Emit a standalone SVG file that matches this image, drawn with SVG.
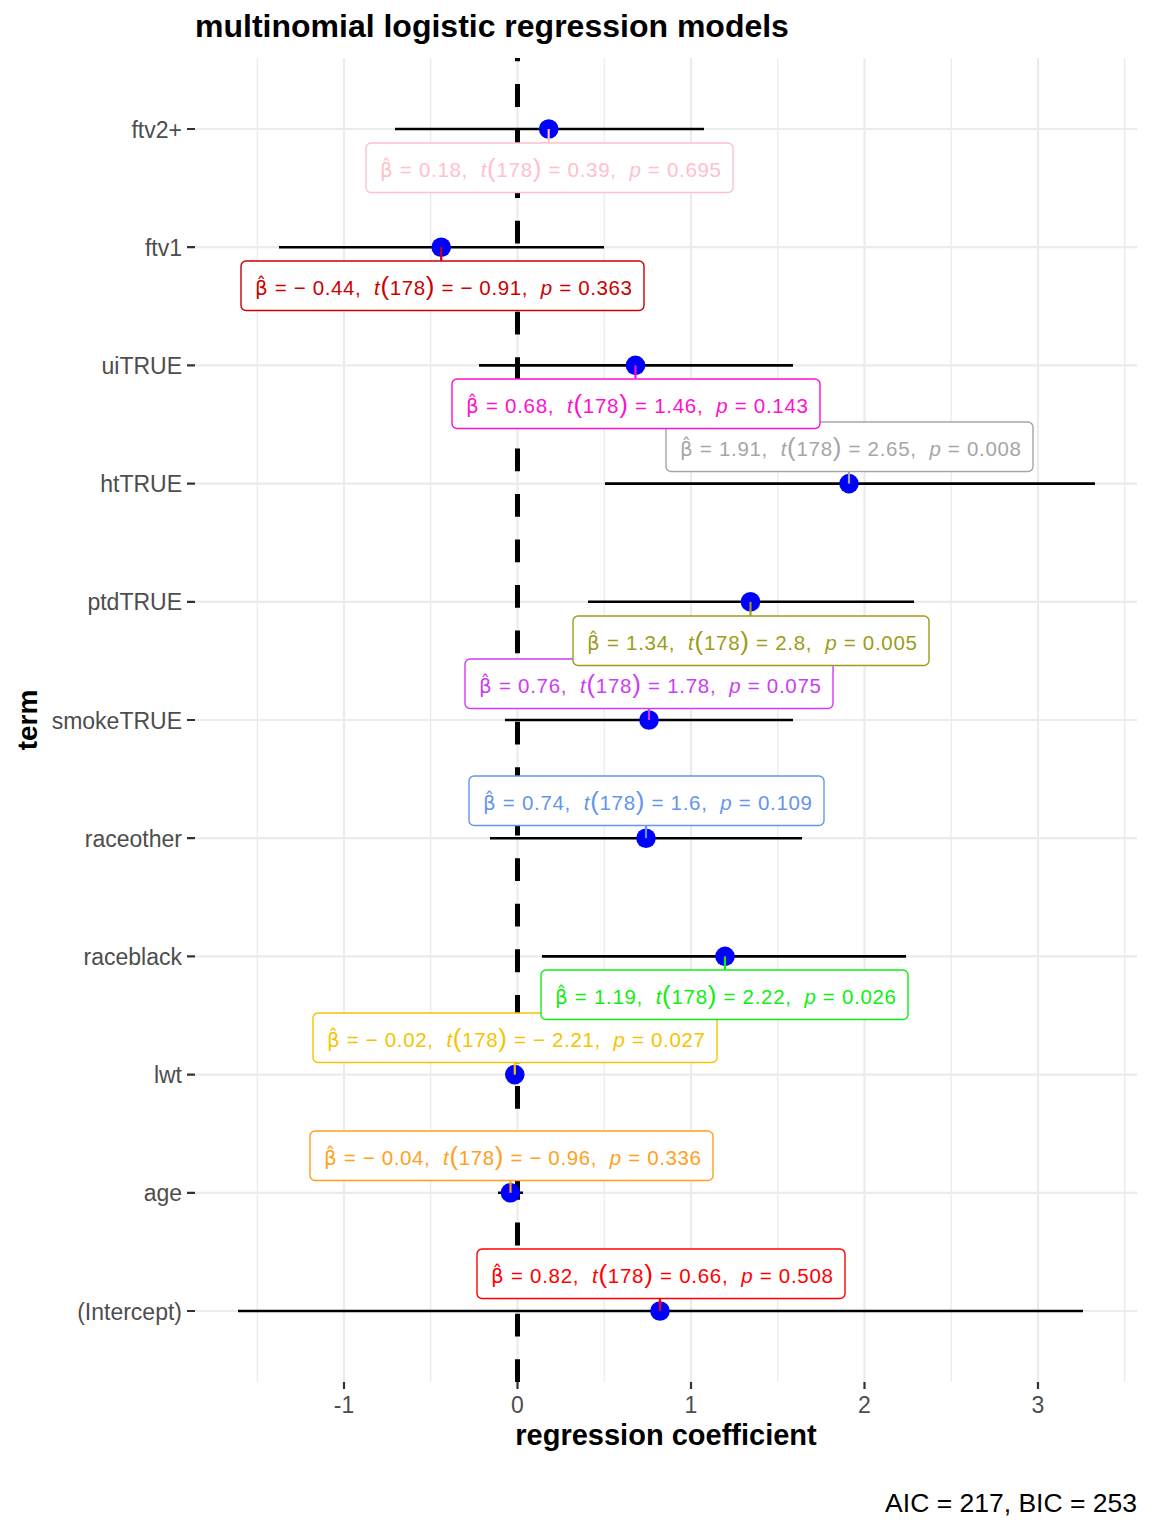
<svg xmlns="http://www.w3.org/2000/svg" width="1152" height="1536" viewBox="0 0 1152 1536">
<style>
text{font-family:"Liberation Sans",Arial,sans-serif}
.grid{stroke:#EBEBEB;stroke-width:2.2;fill:none}
.gridm{stroke:#EBEBEB;stroke-width:1.3;fill:none}
.tick{stroke:#333333;stroke-width:2.2}
.ylab{font-size:23px;fill:#4D4D4D;text-anchor:end}
.xlab{font-size:23px;fill:#4D4D4D;text-anchor:middle}
.eb{stroke:#000;stroke-width:2.6}
.pt{fill:#0000FF}
.box{fill:#fff;stroke-width:1.4}
.lab{font-size:20.5px;white-space:pre}
.b{font-family:"DejaVu Sans",sans-serif;font-size:20px}
.par{font-size:26px}
.it{font-style:italic}
.seg{stroke-width:2.2}
</style>
<rect width="1152" height="1536" fill="#fff"/>
<g id="grid">
<path class="gridm" d="M257.25 58V1382M430.75 58V1382M604.25 58V1382M777.75 58V1382M951.25 58V1382M1124.75 58V1382"/>
<path class="grid" d="M344 58V1382M517.5 58V1382M691 58V1382M864.5 58V1382M1038 58V1382"/>
<path class="grid" d="M195 129H1137M195 247.2H1137M195 365.4H1137M195 483.6H1137M195 601.8H1137M195 720H1137M195 838.2H1137M195 956.4H1137M195 1074.6H1137M195 1192.8H1137M195 1311H1137"/>
</g>
<g id="axes">
<path class="tick" d="M187 129H195M187 247.2H195M187 365.4H195M187 483.6H195M187 601.8H195M187 720H195M187 838.2H195M187 956.4H195M187 1074.6H195M187 1192.8H195M187 1311H195"/>
<path class="tick" d="M344 1382V1389M517.5 1382V1389M691 1382V1389M864.5 1382V1389M1038 1382V1389"/>
<text class="ylab" x="182" y="137.5">ftv2+</text>
<text class="ylab" x="182" y="255.7">ftv1</text>
<text class="ylab" x="182" y="373.9">uiTRUE</text>
<text class="ylab" x="182" y="492.1">htTRUE</text>
<text class="ylab" x="182" y="610.3">ptdTRUE</text>
<text class="ylab" x="182" y="728.5">smokeTRUE</text>
<text class="ylab" x="182" y="846.7">raceother</text>
<text class="ylab" x="182" y="964.9">raceblack</text>
<text class="ylab" x="182" y="1083.1">lwt</text>
<text class="ylab" x="182" y="1201.3">age</text>
<text class="ylab" x="182" y="1319.5">(Intercept)</text>
<text class="xlab" x="344" y="1413">-1</text>
<text class="xlab" x="517.5" y="1413">0</text>
<text class="xlab" x="691" y="1413">1</text>
<text class="xlab" x="864.5" y="1413">2</text>
<text class="xlab" x="1038" y="1413">3</text>
<text x="666" y="1445" font-size="29" font-weight="bold" text-anchor="middle">regression coefficient</text>
<text transform="translate(37,720) rotate(-90)" font-size="28" font-weight="bold" text-anchor="middle">term</text>
<text x="195" y="37" font-size="32" font-weight="bold">multinomial logistic regression models</text>
<text x="1137" y="1512" font-size="26.5" text-anchor="end">AIC = 217, BIC = 253</text>
</g>
<g id="errorbars">
<path class="eb" d="M395 129H704M279 247.2H604M479 365.4H793M605 483.6H1095M588 601.8H914M505 720H793M490 838.2H802M542 956.4H906M512 1074.6H518M498 1192.8H523M238 1311H1083"/>
</g>
<line id="zero-line" x1="517.5" y1="1382" x2="517.5" y2="58" stroke="#000" stroke-width="5" stroke-dasharray="22.77 22.77"/>
<g id="points">
<circle class="pt" cx="548.7" cy="129" r="9.8"/>
<circle class="pt" cx="441.2" cy="247.2" r="9.8"/>
<circle class="pt" cx="635.5" cy="365.4" r="9.8"/>
<circle class="pt" cx="849" cy="483.6" r="9.8"/>
<circle class="pt" cx="750.5" cy="601.8" r="9.8"/>
<circle class="pt" cx="649" cy="720" r="9.8"/>
<circle class="pt" cx="646" cy="838.2" r="9.8"/>
<circle class="pt" cx="725" cy="956.4" r="9.8"/>
<circle class="pt" cx="514.8" cy="1074.6" r="9.8"/>
<circle class="pt" cx="510.5" cy="1192.8" r="9.8"/>
<circle class="pt" cx="660" cy="1311" r="9.8"/>
</g>
<g id="connectors">
<line class="seg" x1="660" y1="1311" x2="660" y2="1298" stroke="#FF0000"/>
<line class="seg" x1="510.5" y1="1192.8" x2="510.5" y2="1181" stroke="#FFA01E"/>
<line class="seg" x1="514.8" y1="1074.6" x2="514.8" y2="1062" stroke="#F5C400"/>
<line class="seg" x1="725" y1="956.4" x2="725" y2="970" stroke="#10EE10"/>
<line class="seg" x1="646" y1="838.2" x2="646" y2="825" stroke="#6495ED"/>
<line class="seg" x1="649" y1="720" x2="649" y2="708" stroke="#CC3DF5"/>
<line class="seg" x1="750.5" y1="601.8" x2="750.5" y2="616" stroke="#9C9C1A"/>
<line class="seg" x1="849" y1="483.6" x2="849" y2="471" stroke="#A6A6A6"/>
<line class="seg" x1="635.5" y1="365.4" x2="635.5" y2="379" stroke="#FF11CC"/>
<line class="seg" x1="441.2" y1="247.2" x2="441.2" y2="261" stroke="#CD0000"/>
<line class="seg" x1="548.7" y1="129" x2="548.7" y2="143" stroke="#FFC0CB"/>
</g>
<g id="label-intercept" fill="#FF0000">
<rect class="box" x="477" y="1249" width="368" height="49.5" rx="5" stroke="#FF0000"/>
<text class="lab" x="491" y="1282.5" textLength="342" lengthAdjust="spacing"><tspan class="b">β̂</tspan> = 0.82,  <tspan class="it">t</tspan><tspan class="par">(</tspan>178<tspan class="par">)</tspan> = 0.66,  <tspan class="it">p</tspan> = 0.508</text>
</g>
<g id="label-age" fill="#FFA01E">
<rect class="box" x="310" y="1131" width="403" height="49.5" rx="5" stroke="#FFA01E"/>
<text class="lab" x="324" y="1164.5" textLength="377" lengthAdjust="spacing"><tspan class="b">β̂</tspan> = − 0.04,  <tspan class="it">t</tspan><tspan class="par">(</tspan>178<tspan class="par">)</tspan> = − 0.96,  <tspan class="it">p</tspan> = 0.336</text>
</g>
<g id="label-lwt" fill="#F5C400">
<rect class="box" x="313" y="1013" width="404" height="49.5" rx="5" stroke="#F5C400"/>
<text class="lab" x="327" y="1046.5" textLength="378" lengthAdjust="spacing"><tspan class="b">β̂</tspan> = − 0.02,  <tspan class="it">t</tspan><tspan class="par">(</tspan>178<tspan class="par">)</tspan> = − 2.21,  <tspan class="it">p</tspan> = 0.027</text>
</g>
<g id="label-raceblack" fill="#10EE10">
<rect class="box" x="541" y="970" width="367" height="49.5" rx="5" stroke="#10EE10"/>
<text class="lab" x="555" y="1003.5" textLength="341" lengthAdjust="spacing"><tspan class="b">β̂</tspan> = 1.19,  <tspan class="it">t</tspan><tspan class="par">(</tspan>178<tspan class="par">)</tspan> = 2.22,  <tspan class="it">p</tspan> = 0.026</text>
</g>
<g id="label-raceother" fill="#6495ED">
<rect class="box" x="469" y="776" width="355" height="49.5" rx="5" stroke="#6495ED"/>
<text class="lab" x="483" y="809.5" textLength="329" lengthAdjust="spacing"><tspan class="b">β̂</tspan> = 0.74,  <tspan class="it">t</tspan><tspan class="par">(</tspan>178<tspan class="par">)</tspan> = 1.6,  <tspan class="it">p</tspan> = 0.109</text>
</g>
<g id="label-smokeTRUE" fill="#CC3DF5">
<rect class="box" x="465" y="659" width="368" height="49.5" rx="5" stroke="#CC3DF5"/>
<text class="lab" x="479" y="692.5" textLength="342" lengthAdjust="spacing"><tspan class="b">β̂</tspan> = 0.76,  <tspan class="it">t</tspan><tspan class="par">(</tspan>178<tspan class="par">)</tspan> = 1.78,  <tspan class="it">p</tspan> = 0.075</text>
</g>
<g id="label-ptdTRUE" fill="#9C9C1A">
<rect class="box" x="573" y="616" width="356" height="49.5" rx="5" stroke="#9C9C1A"/>
<text class="lab" x="587" y="649.5" textLength="330" lengthAdjust="spacing"><tspan class="b">β̂</tspan> = 1.34,  <tspan class="it">t</tspan><tspan class="par">(</tspan>178<tspan class="par">)</tspan> = 2.8,  <tspan class="it">p</tspan> = 0.005</text>
</g>
<g id="label-htTRUE" fill="#A6A6A6">
<rect class="box" x="666" y="422" width="367" height="49.5" rx="5" stroke="#A6A6A6"/>
<text class="lab" x="680" y="455.5" textLength="341" lengthAdjust="spacing"><tspan class="b">β̂</tspan> = 1.91,  <tspan class="it">t</tspan><tspan class="par">(</tspan>178<tspan class="par">)</tspan> = 2.65,  <tspan class="it">p</tspan> = 0.008</text>
</g>
<g id="label-uiTRUE" fill="#FF11CC">
<rect class="box" x="452" y="379" width="368" height="49.5" rx="5" stroke="#FF11CC"/>
<text class="lab" x="466" y="412.5" textLength="342" lengthAdjust="spacing"><tspan class="b">β̂</tspan> = 0.68,  <tspan class="it">t</tspan><tspan class="par">(</tspan>178<tspan class="par">)</tspan> = 1.46,  <tspan class="it">p</tspan> = 0.143</text>
</g>
<g id="label-ftv1" fill="#CD0000">
<rect class="box" x="241" y="261" width="403" height="49.5" rx="5" stroke="#CD0000"/>
<text class="lab" x="255" y="294.5" textLength="377" lengthAdjust="spacing"><tspan class="b">β̂</tspan> = − 0.44,  <tspan class="it">t</tspan><tspan class="par">(</tspan>178<tspan class="par">)</tspan> = − 0.91,  <tspan class="it">p</tspan> = 0.363</text>
</g>
<g id="label-ftv2" fill="#FFC0CB">
<rect class="box" x="366" y="143" width="367" height="49.5" rx="5" stroke="#FFC0CB"/>
<text class="lab" x="380" y="176.5" textLength="341" lengthAdjust="spacing"><tspan class="b">β̂</tspan> = 0.18,  <tspan class="it">t</tspan><tspan class="par">(</tspan>178<tspan class="par">)</tspan> = 0.39,  <tspan class="it">p</tspan> = 0.695</text>
</g>
</svg>
